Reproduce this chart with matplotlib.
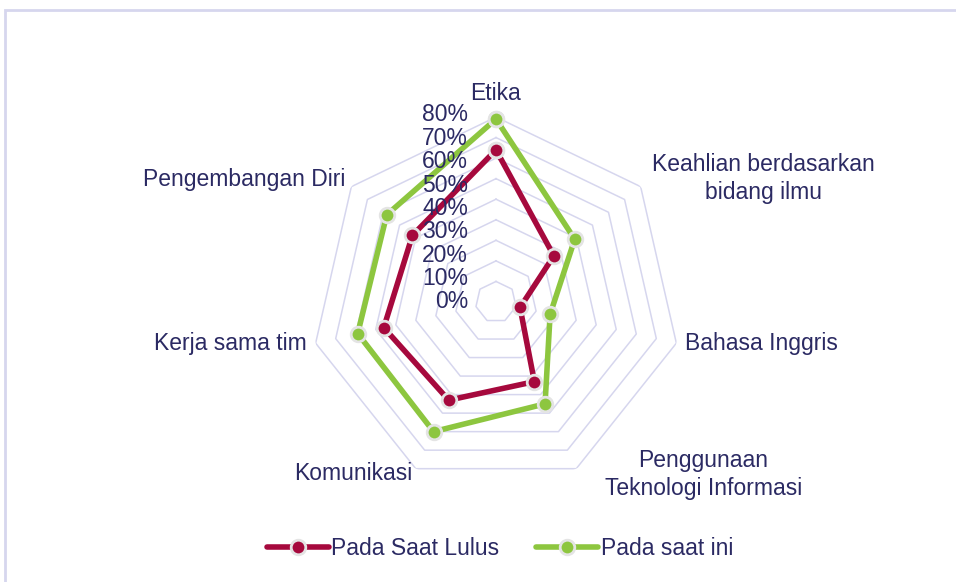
import numpy as np
import matplotlib
matplotlib.use("Agg")
import matplotlib.pyplot as plt
from matplotlib.patches import Rectangle

# categories of the radar chart, clockwise starting at the top
categories = ["Etika", "Keahlian berdasarkan\nbidang ilmu", "Bahasa Inggris",
              "Penggunaan\nTeknologi Informasi", "Komunikasi", "Kerja sama tim",
              "Pengembangan Diri"]
# values (fraction, shown as %)
pada_saat_lulus = [0.64, 0.26, 0.02, 0.33, 0.43, 0.46, 0.42]
pada_saat_ini = [0.79, 0.39, 0.17, 0.45, 0.60, 0.59, 0.58]
series_names = ["Pada Saat Lulus", "Pada saat ini"]
tick_values = [0.0, 0.1, 0.2, 0.3, 0.4, 0.5, 0.6, 0.7, 0.8]
tick_labels = ["0%", "10%", "20%", "30%", "40%", "50%", "60%", "70%", "80%"]

text_color = "#2B2A63"
grid_color = "#D6D6EE"
red = "#A6093D"
green = "#8DC63F"
plt.rcParams["font.family"] = ["Liberation Sans", "DejaVu Sans"]
font_size = 16.5

fig = plt.figure(figsize=(9.56, 5.82), dpi=100)
# light frame around the chart area
fig.patches.append(Rectangle((5 / 956, -0.01), 1.0, 1 - 10 / 582 + 0.01, transform=fig.transFigure,
                             fill=False, edgecolor=grid_color, linewidth=2))

ax = fig.add_axes([311 / 956, 95 / 582, 370 / 956, 370 / 582], projection="polar")
ax.set_theta_zero_location("N")
ax.set_theta_direction(-1)
ax.set_ylim(-0.1, 0.8)
ax.grid(False)
ax.spines["polar"].set_visible(False)
ax.set_xticks([])
ax.set_yticks([])
ax.patch.set_alpha(0)

n = len(categories)
angles = np.linspace(0, 2 * np.pi, n, endpoint=False)
closed = np.append(angles, angles[0])

# heptagon grid rings
for v in tick_values:
    ax.plot(closed, [v] * (n + 1), color=grid_color, linewidth=1.1, zorder=1)

# the two series
for values, color, name in [(pada_saat_lulus, red, series_names[0]), (pada_saat_ini, green, series_names[1])]:
    vals = np.append(values, values[0])
    ax.plot(closed, vals, color=color, linewidth=4, marker="o", markersize=10.5,
            markerfacecolor=color, markeredgecolor="#E4E4E4", markeredgewidth=2,
            solid_capstyle="round", label=name, zorder=3, clip_on=False)

# category labels placed outside the outer ring
label_style = [
    ((0, 24), "center", "center"),
    ((123, 8), "center", "center"),
    ((9, 0), "left", "center"),
    ((127, -6), "center", "center"),
    ((-3, -5), "right", "center"),
    ((-9, 0), "right", "center"),
    ((-6, 7), "right", "center"),
]
for ang, cat, (off, ha, va) in zip(angles, categories, label_style):
    ax.annotate(cat, xy=(ang, 0.8), xytext=off, textcoords="offset pixels",
                ha=ha, va=va, multialignment="center", fontsize=font_size,
                color=text_color, linespacing=1.25)

# radial axis labels, stacked above the centre like in the original
for v, t in zip(tick_values, tick_labels):
    ax.text(0.4243, 0.5 + v * 0.632, t, transform=ax.transAxes, ha="right", va="center",
            fontsize=font_size, color=text_color, zorder=5)

leg = fig.legend(loc="center", bbox_to_anchor=(0.523, 0.058), ncol=2, frameon=False,
                 fontsize=font_size, handlelength=2.7, handletextpad=0.12, columnspacing=1.6,
                 labelcolor=text_color)

fig.savefig("out.png", dpi=100)
